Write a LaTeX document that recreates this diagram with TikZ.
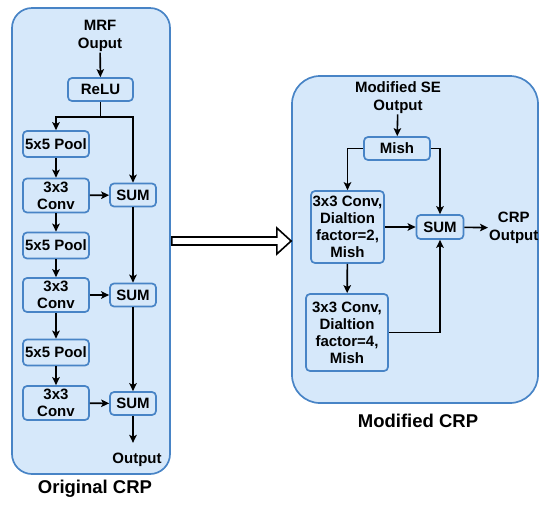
\documentclass[tikz,border=0pt]{standalone}
\usepackage{fontspec}
\setmainfont{Liberation Sans}
\definecolor{crpfill}{RGB}{214,232,250}
\definecolor{crpline}{RGB}{72,132,198}
\usetikzlibrary{arrows.meta,positioning,calc}

\begin{document}
\begin{tikzpicture}[x=1pt,y=-1pt,
  panel/.style={draw=crpline,fill=crpfill,line width=1.7pt},
  blk/.style={draw=crpline,fill=crpfill,line width=1.7pt,rounded corners=4pt,
    font=\bfseries\fontsize{15}{17}\selectfont,align=center,inner sep=0pt},
  lbl/.style={font=\bfseries\fontsize{15}{17.5}\selectfont,align=center,inner sep=1pt},
  ttl/.style={font=\bfseries\fontsize{18.5}{20}\selectfont},
  arr/.style={-{Stealth[length=8pt,width=7.5pt,inset=1.8pt]},line width=1.6pt}
]
  \useasboundingbox (0,0) rectangle (550,507);

  % Original CRP
  \node[panel,rounded corners=20pt,minimum width=158pt,minimum height=466pt] (orig) at (91,241) {};
  \node[ttl] (origttl) at (95,489) {Original CRP};
  \node[lbl] (mrf) at (100,36) {MRF\\Ouput};
  \node[blk,minimum width=65pt,minimum height=23pt] (relu) at (100.5,89.5) {ReLU};
  \node[blk,minimum width=66pt,minimum height=26pt] (pool1) at (56,144) {5x5 Pool};
  \node[blk,minimum width=66pt,minimum height=34pt] (conv1) at (56,195.5) {3x3\\Conv};
  \node[blk,minimum width=46pt,minimum height=23pt] (sum1) at (133,195) {SUM};
  \node[blk,minimum width=66pt,minimum height=26pt] (pool2) at (56,245.5) {5x5 Pool};
  \node[blk,minimum width=66pt,minimum height=34pt] (conv2) at (56,295) {3x3\\Conv};
  \node[blk,minimum width=46pt,minimum height=23pt] (sum2) at (133,295) {SUM};
  \node[blk,minimum width=66pt,minimum height=26pt] (pool3) at (56,352.5) {5x5 Pool};
  \node[blk,minimum width=66pt,minimum height=34pt] (conv3) at (56,403) {3x3\\Conv};
  \node[blk,minimum width=46pt,minimum height=23pt] (sum3) at (133,403.5) {SUM};
  \node[lbl] (origout) at (137,460) {Output};
  \coordinate (split) at ($(relu.south)+(0,15)$);
  \coordinate (outend) at ($(sum3.south)+(0,27)$);

  \draw[arr] (mrf) -- (relu);
  \draw[arr] (relu.south) -- (split) -| (pool1.north);
  \draw[arr] (split) -| (sum1.north);
  \draw[arr] (pool1) -- (conv1);
  \draw[arr] (conv1) -- (sum1);
  \draw[arr] (conv1) -- (pool2);
  \draw[arr] (pool2) -- (conv2);
  \draw[arr] (conv2) -- (sum2);
  \draw[arr] (sum1) -- (sum2);
  \draw[arr] (conv2) -- (pool3);
  \draw[arr] (pool3) -- (conv3);
  \draw[arr] (conv3) -- (sum3);
  \draw[arr] (sum2) -- (sum3);
  \draw[arr] (sum3) -- (outend);

  % Modified CRP
  \node[panel,rounded corners=28pt,minimum width=246pt,minimum height=327pt] (crp) at (415,239.5) {};
  \node[ttl] (crpttl) at (418,421) {Modified CRP};
  \node[lbl] (se) at (398,97.5) {Modified SE\\Output};
  \node[blk,minimum width=66pt,minimum height=23pt] (mish) at (397,148.5) {Mish};
  \node[blk,minimum width=73pt,minimum height=72pt] (dconvA) at (347.5,227) {3x3 Conv,\\Dialtion\\factor=2,\\Mish};
  \node[blk,minimum width=82pt,minimum height=77pt] (dconvB) at (347,332.5) {3x3 Conv,\\Dialtion\\factor=4,\\Mish};
  \node[blk,minimum width=47pt,minimum height=24pt] (sumr) at (440,227) {SUM};
  \node[lbl,anchor=west] (crpout) at (488,228) {CRP\\Output};

  \draw[arr] (se) -- (mish);
  \draw[arr] (mish.west) -| (dconvA.north);
  \draw[arr] (mish.east) -| (sumr.north);
  \draw[arr] (dconvA) -- (sumr);
  \draw[arr] (dconvA) -- (dconvB);
  \draw[arr] (dconvB.east) -| (sumr.south);
  \draw[arr] (sumr) -- (crpout);

  % hollow arrow between panels
  \draw[line width=1.6pt,fill=white] ($(orig.east)+(1,-4)$) -- ++(105,0) -- ++(0,-9)
    -- (orig.east -| crp.west) -- ($(orig.east)+(106,13)$) -- ++(0,-9) -- ($(orig.east)+(1,4)$) -- cycle;
\end{tikzpicture}
\end{document}
